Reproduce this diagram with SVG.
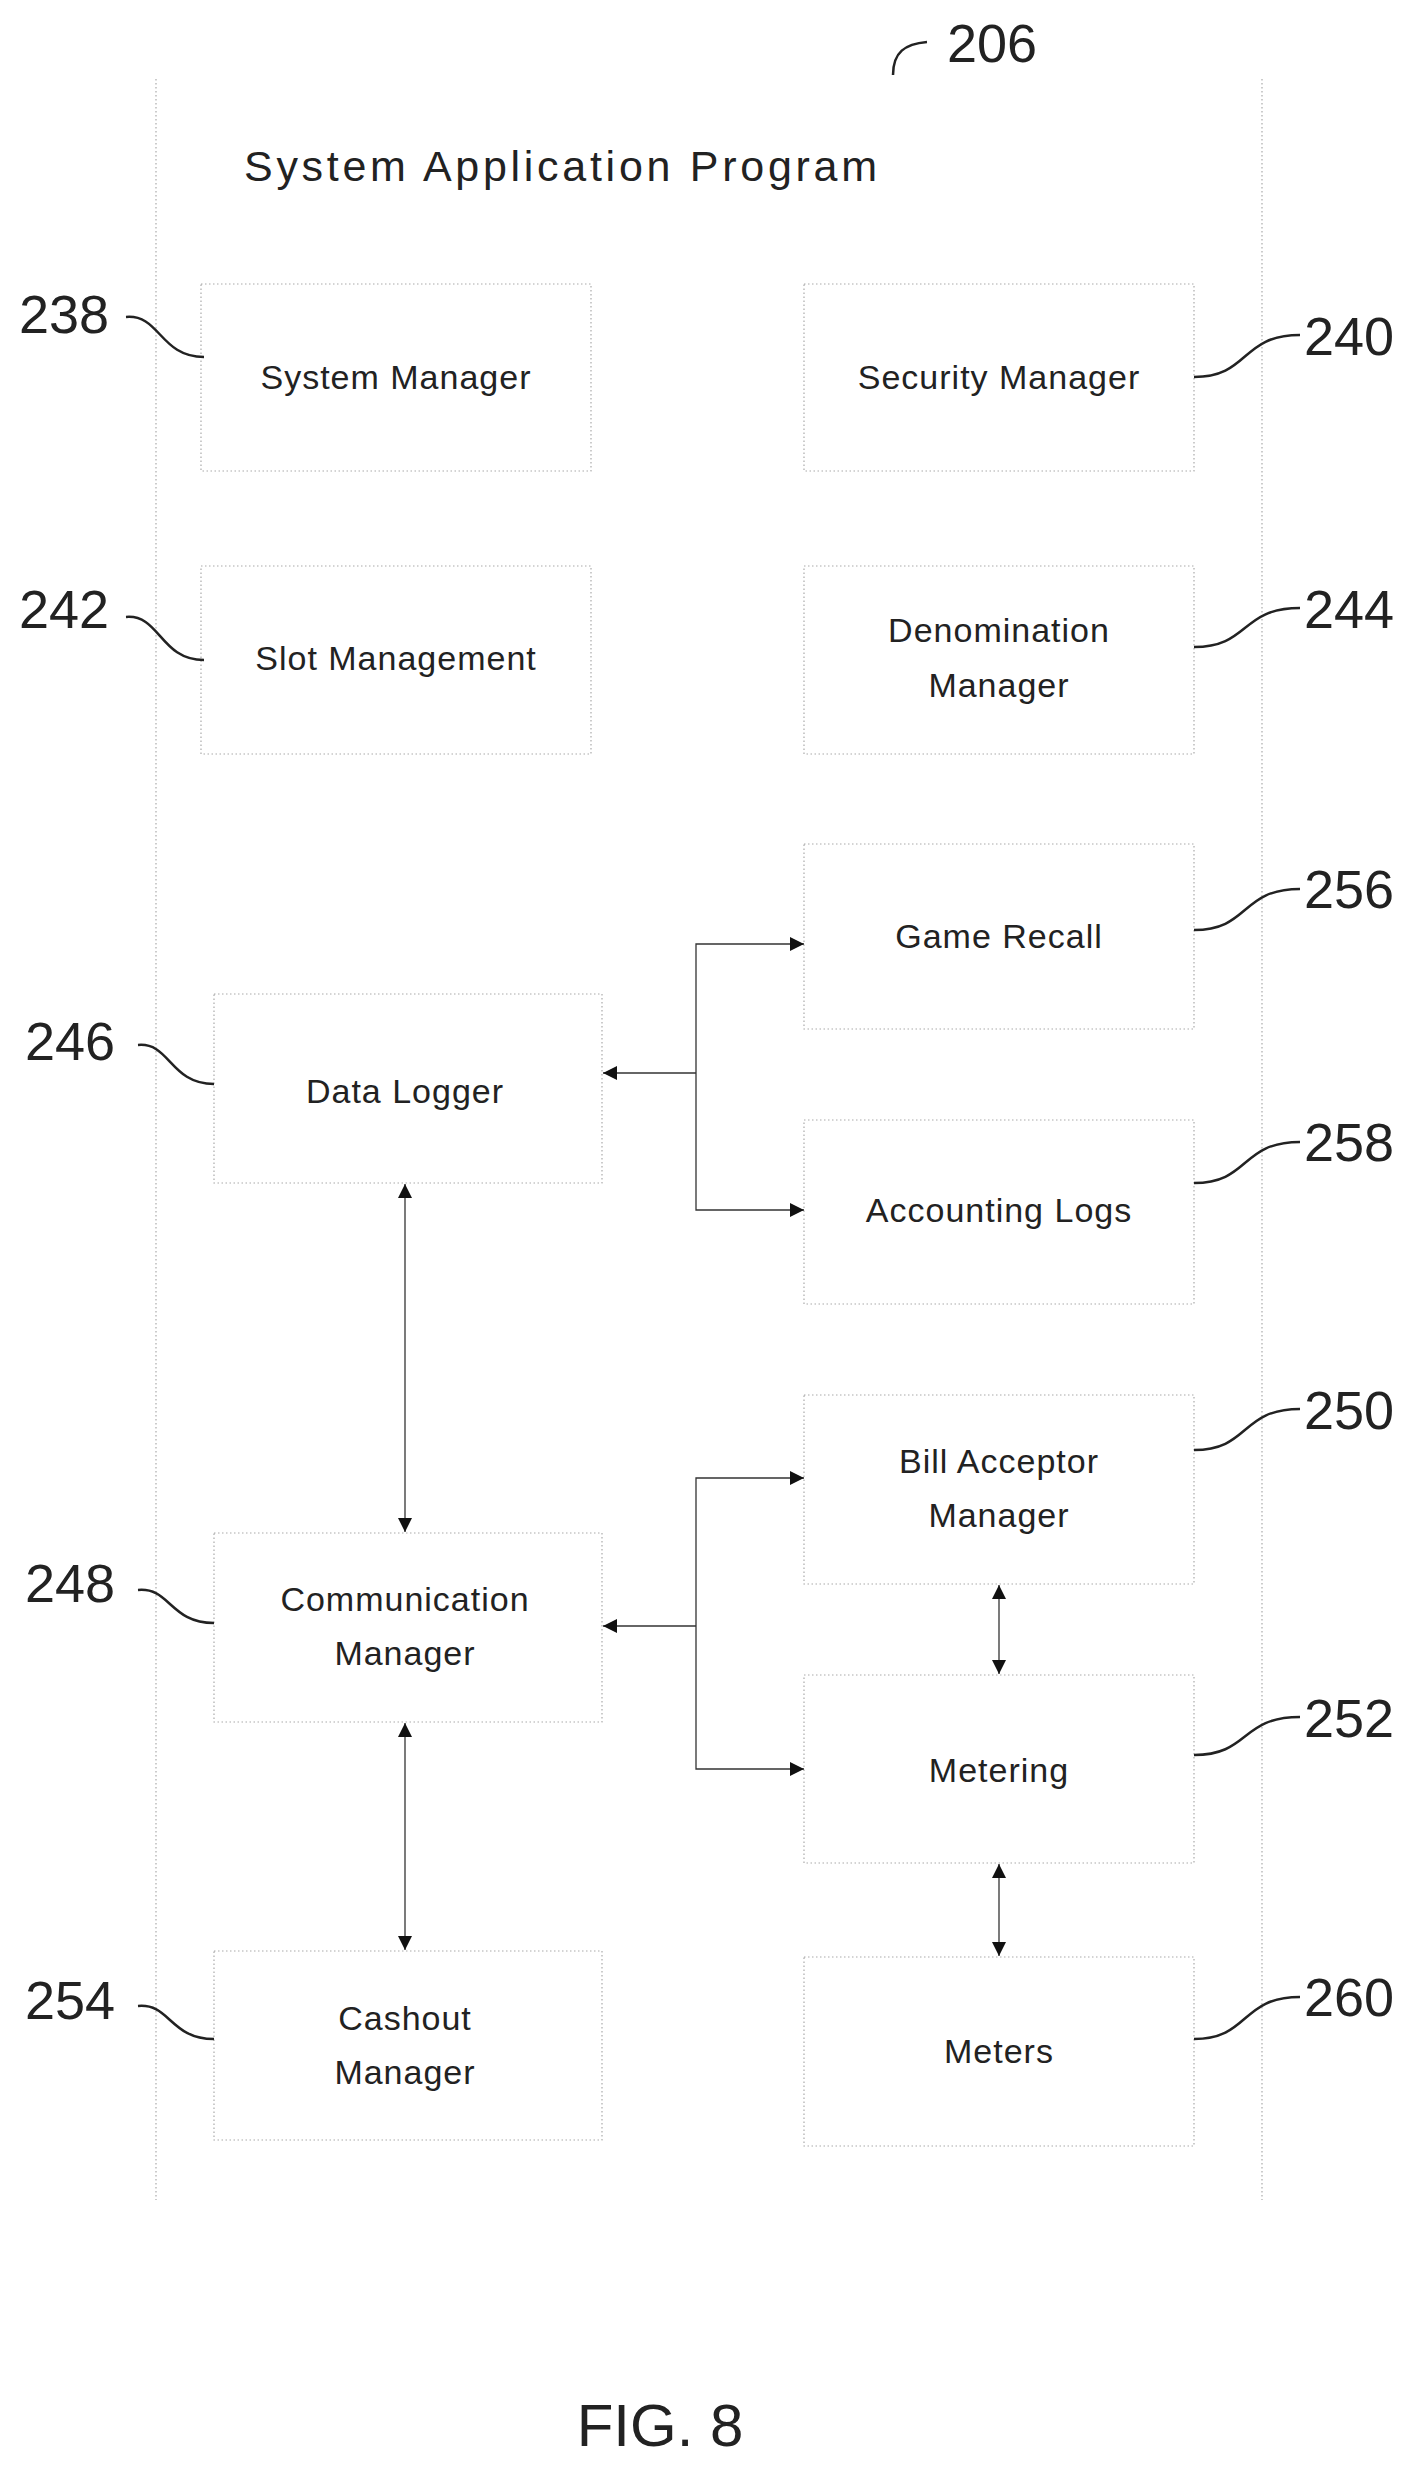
<svg xmlns="http://www.w3.org/2000/svg" width="1425" height="2465" viewBox="0 0 1425 2465">
<style>
.box{fill:none;stroke:#aaa;stroke-width:1.2;stroke-dasharray:1.5 2.5}
.t{font-family:"Liberation Sans",Arial,sans-serif;font-size:34px;fill:#222;text-anchor:middle;letter-spacing:1px}
.n{font-family:"Liberation Sans",Arial,sans-serif;font-size:54px;fill:#222}
.lead{fill:none;stroke:#222;stroke-width:2.5}
.c{fill:none;stroke:#333;stroke-width:1.3}
</style>
<defs>
<marker id="a" viewBox="0 0 10 10" refX="10" refY="5" markerWidth="14" markerHeight="14" markerUnits="userSpaceOnUse" orient="auto-start-reverse"><path d="M0,0 L10,5 L0,10 Z" fill="#111"/></marker>
</defs>
<rect x="0" y="0" width="1425" height="2465" fill="#fff"/>
<g id="frame">
<path class="box" d="M156,79 L156,2200 M1262,79 L1262,2200"/>
<text x="244" y="181" font-family="Liberation Sans,Arial,sans-serif" font-size="43" fill="#222" textLength="633" lengthAdjust="spacing">System Application Program</text>
<path class="lead" d="M893,75 C893,52 905,44 927,42"/>
<text class="n" x="947" y="62">206</text>
</g>
<g id="n238"><rect class="box" x="201" y="284" width="390" height="187"/><text class="t" x="396" y="389">System Manager</text><path class="lead" d="M126,317 C160,314 160,357 204,357"/><text class="n" x="19" y="333">238</text></g>
<g id="n240"><rect class="box" x="804" y="284" width="390" height="187"/><text class="t" x="999" y="389">Security Manager</text><path class="lead" d="M1194,377 C1250,377 1240,335 1300,335"/><text class="n" x="1304" y="355">240</text></g>
<g id="n242"><rect class="box" x="201" y="566" width="390" height="188"/><text class="t" x="396" y="670">Slot Management</text><path class="lead" d="M126,617 C160,614 160,660 204,660"/><text class="n" x="19" y="628">242</text></g>
<g id="n244"><rect class="box" x="804" y="566" width="390" height="188"/><text class="t" x="999" y="642">Denomination</text><text class="t" x="999" y="697">Manager</text><path class="lead" d="M1194,647 C1250,647 1240,608 1300,608"/><text class="n" x="1304" y="628">244</text></g>
<g id="n256"><rect class="box" x="804" y="844" width="390" height="185"/><text class="t" x="999" y="948">Game Recall</text><path class="lead" d="M1194,930 C1250,930 1240,889 1300,889"/><text class="n" x="1304" y="908">256</text></g>
<g id="n246"><rect class="box" x="214" y="994" width="388" height="189"/><text class="t" x="405" y="1103">Data Logger</text><path class="lead" d="M138,1045 C170,1042 170,1084 214,1084"/><text class="n" x="25" y="1060">246</text></g>
<g id="n258"><rect class="box" x="804" y="1120" width="390" height="184"/><text class="t" x="999" y="1222">Accounting Logs</text><path class="lead" d="M1194,1183 C1250,1183 1240,1142 1300,1142"/><text class="n" x="1304" y="1161">258</text></g>
<g id="n250"><rect class="box" x="804" y="1395" width="390" height="189"/><text class="t" x="999" y="1473">Bill Acceptor</text><text class="t" x="999" y="1527">Manager</text><path class="lead" d="M1194,1450 C1250,1450 1240,1409 1300,1409"/><text class="n" x="1304" y="1429">250</text></g>
<g id="n248"><rect class="box" x="214" y="1533" width="388" height="189"/><text class="t" x="405" y="1611">Communication</text><text class="t" x="405" y="1665">Manager</text><path class="lead" d="M138,1590 C170,1587 170,1623 214,1623"/><text class="n" x="25" y="1602">248</text></g>
<g id="n252"><rect class="box" x="804" y="1675" width="390" height="188"/><text class="t" x="999" y="1782">Metering</text><path class="lead" d="M1194,1755 C1250,1755 1240,1717 1300,1717"/><text class="n" x="1304" y="1737">252</text></g>
<g id="n254"><rect class="box" x="214" y="1951" width="388" height="189"/><text class="t" x="405" y="2030">Cashout</text><text class="t" x="405" y="2084">Manager</text><path class="lead" d="M138,2006 C170,2003 170,2039 214,2039"/><text class="n" x="25" y="2019">254</text></g>
<g id="n260"><rect class="box" x="804" y="1957" width="390" height="189"/><text class="t" x="999" y="2063">Meters</text><path class="lead" d="M1194,2039 C1250,2039 1240,1997 1300,1997"/><text class="n" x="1304" y="2016">260</text></g>
<g id="connectors">
<path class="c" d="M696,1073 L603,1073" marker-end="url(#a)"/>
<path class="c" d="M804,944 L696,944 L696,1210 L804,1210" marker-start="url(#a)" marker-end="url(#a)"/>
<path class="c" d="M696,1626 L603,1626" marker-end="url(#a)"/>
<path class="c" d="M804,1478 L696,1478 L696,1769 L804,1769" marker-start="url(#a)" marker-end="url(#a)"/>
<path class="c" d="M405,1184 L405,1532" marker-start="url(#a)" marker-end="url(#a)"/>
<path class="c" d="M405,1723 L405,1950" marker-start="url(#a)" marker-end="url(#a)"/>
<path class="c" d="M999,1585 L999,1674" marker-start="url(#a)" marker-end="url(#a)"/>
<path class="c" d="M999,1864 L999,1956" marker-start="url(#a)" marker-end="url(#a)"/>
</g>
<text x="660" y="2446" text-anchor="middle" font-family="Liberation Sans,Arial,sans-serif" font-size="60" fill="#222">FIG. 8</text>
</svg>
